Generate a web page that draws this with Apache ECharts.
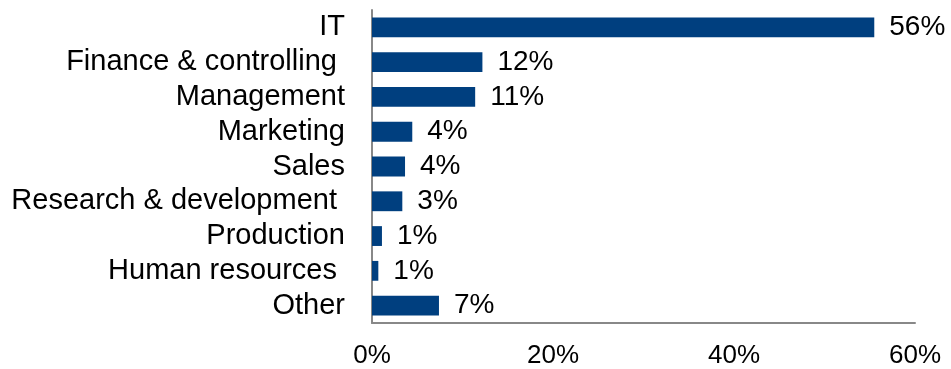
<!DOCTYPE html>
<html>
<head>
<meta charset="utf-8">
<script src="https://cdn.jsdelivr.net/npm/echarts@6/dist/echarts.min.js"></script>
<style>
  html, body { margin: 0; padding: 0; background: #ffffff; }
  #chart { width: 951px; height: 369px; }
</style>
</head>
<body>
<div id="chart"></div>
<script>
// Departments, listed top to bottom
const categories = [
  'IT',
  'Finance & controlling ',
  'Management',
  'Marketing',
  'Sales',
  'Research & development ',
  'Production',
  'Human resources ',
  'Other'
];

// Share of respondents per department (%)
const shares = [55.5, 12.2, 11.4, 4.45, 3.65, 3.35, 1.1, 0.7, 7.4];

// Horizontal axis ticks (%)
const axisMin = 0;
const axisMax = 60;
const axisStep = 20;

const chart = echarts.init(document.getElementById('chart'), null, { renderer: 'canvas' });

const font = '"Liberation Sans", Arial, Helvetica, sans-serif';
const axisGray = '#888888';

chart.setOption({
  animation: false,
  backgroundColor: '#ffffff',
  grid: { left: 372, right: 36, top: 10, bottom: 46, containLabel: false },
  xAxis: {
    type: 'value',
    min: axisMin,
    max: axisMax,
    interval: axisStep,
    axisLine: { show: true, lineStyle: { color: axisGray, width: 2 } },
    axisTick: { show: false },
    splitLine: { show: false },
    axisLabel: {
      formatter: '{value}%',
      color: '#000000',
      fontFamily: font,
      fontSize: 26,
      margin: 20
    }
  },
  yAxis: {
    type: 'category',
    data: categories,
    inverse: true,
    axisLine: { show: true, lineStyle: { color: axisGray, width: 2 } },
    axisTick: { show: false },
    splitLine: { show: false },
    axisLabel: {
      interval: 0,
      color: '#000000',
      fontFamily: font,
      fontSize: 29,
      margin: 27
    }
  },
  series: [{
    type: 'bar',
    data: shares,
    barWidth: '57%',
    itemStyle: { color: '#003f7f' },
    label: {
      show: true,
      position: 'right',
      distance: 15,
      color: '#000000',
      fontFamily: font,
      fontSize: 28,
      formatter: (p) => Math.round(p.value) + '%'
    }
  }]
});
</script>
</body>
</html>
